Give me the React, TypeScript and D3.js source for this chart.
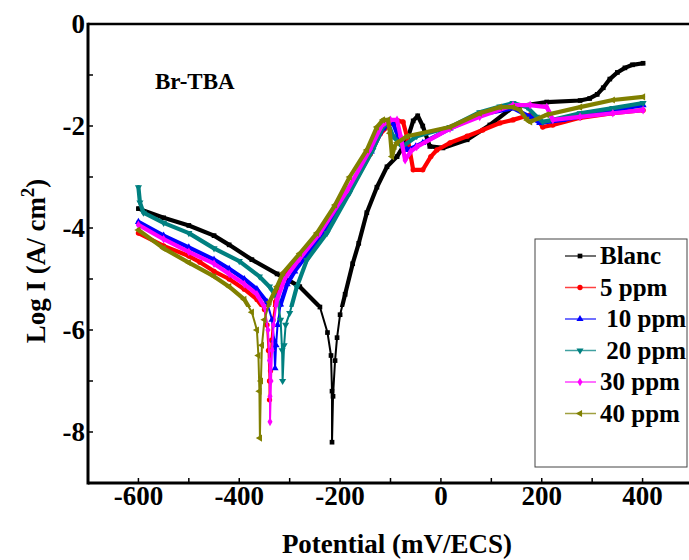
import React from 'react';
import * as d3 from 'd3';

const seriesNames = ["Blanc", "5 ppm", " 10 ppm", " 20 ppm", "30 ppm", "40 ppm"];
const seriesColors = ["#000000", "#ff0000", "#0000ff", "#008080", "#ff00ff", "#808000"];
const seriesSymbols = ["square", "circle", "triUp", "triDown", "diamond", "triLeft"];
const xTickValues = [-600, -400, -200, 0, 200, 400];
const yTickValues = [0, -2, -4, -6, -8];
const chartTitle = "Br-TBA";
const xTitle = "Potential (mV/ECS)";

const blancE = [-600, -550, -500, -450, -420, -375, -325, -280, -240, -225, -218, -216, -216, -214, -210, -206, -200, -190, -175, -163, -147, -127, -107, -87, -67, -55, -46, -36, -22, 4, 52, 97, 143, 210, 276, 295, 310, 322, 335, 350, 365, 380, 401];
const blancLogI = [-3.62, -3.8, -3.95, -4.15, -4.33, -4.62, -4.9, -5.15, -5.55, -6.05, -6.5, -7.2, -8.2, -7.3, -6.6, -6.15, -5.7, -5.3, -4.7, -4.3, -3.7, -3.2, -2.8, -2.6, -2.27, -1.9, -1.8, -2.0, -2.4, -2.43, -2.27, -1.98, -1.63, -1.53, -1.5, -1.46, -1.38, -1.25, -1.08, -0.95, -0.86, -0.8, -0.77];

const ppm5E = [-600, -550, -500, -478, -450, -420, -390, -365, -350, -345, -342, -340, -340, -338, -336, -333, -328, -318, -300, -270, -238, -185, -140, -120, -100, -85, -75, -65, -55, -36, -20, -8, 18, 52, 83, 117, 143, 177, 190, 202, 222, 276, 341, 401];
const ppm5LogI = [-4.1, -4.35, -4.55, -4.67, -4.85, -5.0, -5.2, -5.4, -5.6, -5.9, -6.4, -7.0, -7.37, -6.8, -6.2, -5.8, -5.45, -5.1, -4.8, -4.45, -4.1, -3.35, -2.55, -2.15, -1.95, -1.9, -1.92, -2.3, -2.86, -2.86, -2.6, -2.47, -2.33, -2.2, -2.08, -1.94, -1.88, -1.78, -1.85, -2.02, -1.98, -1.84, -1.75, -1.69];

const ppm10E = [-600, -550, -500, -450, -420, -390, -365, -345, -335, -331, -329, -327, -324, -318, -305, -290, -234, -185, -138, -115, -100, -95, -85, -67, -50, -36, 18, 77, 143, 177, 196, 242, 341, 401];
const ppm10LogI = [-3.88, -4.15, -4.38, -4.62, -4.8, -5.0, -5.2, -5.45, -5.8, -6.2, -6.75, -6.3, -5.9, -5.5, -5.1, -4.85, -4.1, -3.3, -2.5, -2.05, -1.94, -1.94, -2.2, -2.47, -2.4, -2.33, -2.05, -1.78, -1.65, -1.82, -1.94, -1.88, -1.69, -1.59];

const ppm20E = [-600, -597, -590, -550, -500, -450, -400, -360, -340, -325, -318, -315, -314, -311, -308, -300, -286, -266, -226, -181, -135, -115, -105, -95, -77, -48, 18, 77, 117, 143, 171, 190, 202, 222, 276, 341, 401];
const ppm20LogI = [-3.2, -3.5, -3.7, -3.9, -4.1, -4.4, -4.65, -4.95, -5.15, -5.37, -5.8, -6.4, -7.0, -6.3, -5.9, -5.67, -5.16, -4.63, -4.1, -3.31, -2.47, -2.02, -1.94, -2.2, -2.41, -2.2, -2.02, -1.73, -1.62, -1.55, -1.63, -1.82, -1.92, -1.88, -1.75, -1.65, -1.55];

const ppm30E = [-600, -550, -500, -450, -420, -390, -365, -350, -343, -340, -339, -339, -337, -335, -332, -325, -310, -280, -240, -185, -140, -118, -100, -87, -80, -71, -60, -48, 18, 77, 143, 177, 210, 216, 222, 276, 341, 401];
const ppm30LogI = [-3.94, -4.22, -4.47, -4.7, -4.9, -5.1, -5.3, -5.55, -6.0, -6.6, -7.3, -7.8, -7.0, -6.4, -5.9, -5.4, -5.0, -4.6, -4.1, -3.25, -2.45, -2.0, -1.88, -1.88, -2.2, -2.67, -2.5, -2.41, -2.05, -1.82, -1.59, -1.59, -1.63, -1.75, -1.88, -1.82, -1.75, -1.69];

const ppm40E = [-600, -550, -500, -450, -420, -390, -375, -365, -362, -360, -359, -357, -355, -350, -340, -325, -313, -280, -246, -210, -181, -147, -127, -115, -105, -101, -97, -92, -87, -67, 18, 77, 117, 143, 157, 171, 177, 210, 276, 341, 401];
const ppm40LogI = [-4.04, -4.4, -4.68, -4.95, -5.15, -5.4, -5.65, -6.0, -6.5, -7.2, -8.12, -7.0, -6.3, -5.8, -5.45, -5.15, -4.88, -4.5, -4.1, -3.55, -3.0, -2.47, -2.02, -1.88, -1.88, -2.14, -2.6, -2.4, -2.33, -2.2, -2.02, -1.75, -1.63, -1.63, -1.69, -1.88, -1.92, -1.78, -1.63, -1.49, -1.43];

const seriesE = [blancE, ppm5E, ppm10E, ppm20E, ppm30E, ppm40E];
const seriesLogI = [blancLogI, ppm5LogI, ppm10LogI, ppm20LogI, ppm30LogI, ppm40LogI];

const FONT = '"Liberation Serif", "Times New Roman", Times, serif';

function symbolPath(kind: string, size: number) {
  const map: Record<string, any> = {
    square: d3.symbolSquare,
    circle: d3.symbolCircle,
    triUp: d3.symbolTriangle,
    triDown: d3.symbolTriangle,
    diamond: d3.symbolDiamond,
    triLeft: d3.symbolTriangle,
  };
  return d3.symbol().type(map[kind]).size(size)() as string;
}
function symbolRotate(kind: string) {
  if (kind === 'triDown') return 180;
  if (kind === 'triLeft') return -90;
  return 0;
}

export default function App() {
  const W = 689, H = 560;
  const x = d3.scaleLinear().domain([-700, 500]).range([88, 693]);
  const y = d3.scaleLinear().domain([-9, 0]).range([483, 24]);
  const line = d3.line<[number, number]>().x(d => x(d[0])).y(d => y(d[1]));

  const xMinor = d3.range(-600, 500, 100);
  const yMinor = d3.range(-8, 0, 1);

  const legendX = 535, legendY = 239, legendW = 152, legendH = 228;
  const rowY0 = 256, rowStep = 31.5;
  const thickLimit = y(-5.55);

  return (
    <svg width={W} height={H} style={{ position: 'absolute', left: 0, top: 0, background: '#fff' }}
      fontFamily={FONT} fontWeight="bold">
      <defs>
        <clipPath id="upperClip">
          <rect x={0} y={0} width={W} height={thickLimit} />
        </clipPath>
      </defs>
      <rect x={0} y={0} width={W} height={H} fill="#fff" />
      {/* series */}
      {seriesE.map((es, i) => {
        const pts = es.map((e, j) => [e, seriesLogI[i][j]] as [number, number]);
        const d = line(pts) as string;
        return (
          <g key={i}>
            <path d={d} fill="none" stroke={seriesColors[i]} strokeWidth={2}
              strokeLinejoin="round" strokeLinecap="round" />
            <path d={d} fill="none" stroke={seriesColors[i]} strokeWidth={4.2}
              strokeLinejoin="round" strokeLinecap="round" clipPath="url(#upperClip)" />
            {pts.map((p, j) => (
              <path key={j} d={symbolPath(seriesSymbols[i], 22)}
                transform={`translate(${x(p[0])},${y(p[1])}) rotate(${symbolRotate(seriesSymbols[i])})`}
                fill={seriesColors[i]} />
            ))}
          </g>
        );
      })}
      {/* axes */}
      <line x1={x(-700)} x2={W} y1={y(0)} y2={y(0)} stroke="#000" strokeWidth={2.5} />
      <line x1={x(-700)} x2={W} y1={y(-9)} y2={y(-9)} stroke="#000" strokeWidth={3} />
      <line x1={x(-700)} x2={x(-700)} y1={y(0) - 1.25} y2={y(-9) + 1.5} stroke="#000" strokeWidth={3} />
      {xMinor.map(v => (
        <line key={'xt' + v} x1={x(v)} x2={x(v)} y1={y(-9)} y2={y(-9) - 5} stroke="#000" strokeWidth={1.5} />
      ))}
      {yMinor.map(v => (
        <line key={'yt' + v} x1={x(-700)} x2={x(-700) + 5} y1={y(v)} y2={y(v)} stroke="#000" strokeWidth={1.5} />
      ))}
      {xTickValues.map(v => (
        <text key={'xl' + v} x={x(v)} y={505} textAnchor="middle" fontSize={27}>{v}</text>
      ))}
      {yTickValues.map(v => (
        <text key={'yl' + v} x={85} y={y(v)} dy="0.35em" textAnchor="end" fontSize={27}>{v}</text>
      ))}
      <text x={397} y={553} textAnchor="middle" fontSize={27}>{xTitle}</text>
      <text transform="translate(45,261) rotate(-90)" textAnchor="middle" fontSize={27}>
        Log I (A/ cm<tspan fontSize={19} dy={-11}>2</tspan><tspan dy={11}>)</tspan>
      </text>
      <text x={155} y={89} fontSize={23}>{chartTitle}</text>
      {/* legend */}
      <rect x={legendX} y={legendY} width={legendW} height={legendH} fill="#fff" stroke="#444" strokeWidth={1} />
      {seriesNames.map((name, i) => {
        const ry = rowY0 + i * rowStep;
        return (
          <g key={'lg' + i}>
            <line x1={565} x2={596} y1={ry} y2={ry} stroke={seriesColors[i]} strokeWidth={1.5} strokeOpacity={0.75} />
            <path d={symbolPath(seriesSymbols[i], 22)}
              transform={`translate(580,${ry}) rotate(${symbolRotate(seriesSymbols[i])})`}
              fill={seriesColors[i]} />
            <text x={600} y={ry} dy="0.33em" fontSize={25} style={{ whiteSpace: 'pre' }}>{name}</text>
          </g>
        );
      })}
    </svg>
  );
}
